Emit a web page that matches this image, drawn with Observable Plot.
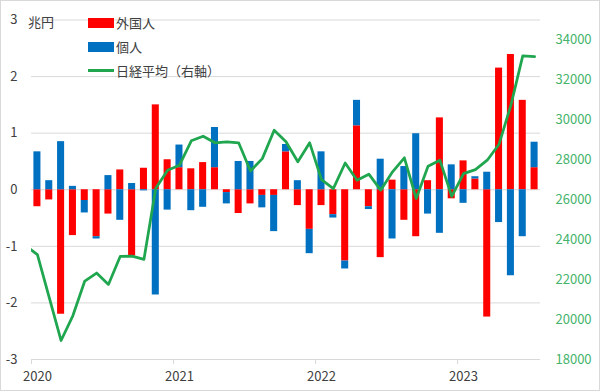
<!DOCTYPE html>
<html><head><meta charset="utf-8">
<script src="https://cdn.jsdelivr.net/npm/d3@7"></script>
<script src="https://cdn.jsdelivr.net/npm/@observablehq/plot@0.6"></script>
<style>
body{margin:0;background:#fff;font-family:"Noto Sans CJK JP",sans-serif;}
#wrap{position:relative;width:600px;height:391px;overflow:hidden;background:#fff;}
.lbl{position:absolute;font-size:13px;color:#404040;line-height:13px;white-space:nowrap;}
.sw{position:absolute;}
#frame{position:absolute;left:0;top:0;width:600px;height:391px;box-sizing:border-box;border:1px solid #d9d9d9;pointer-events:none;}
</style></head><body>
<div id="wrap"></div>
<script>
// Categories: monthly, Jan 2020 - Jul 2023
const months = [
 "2020-01","2020-02","2020-03","2020-04","2020-05","2020-06","2020-07","2020-08","2020-09","2020-10","2020-11","2020-12",
 "2021-01","2021-02","2021-03","2021-04","2021-05","2021-06","2021-07","2021-08","2021-09","2021-10","2021-11","2021-12",
 "2022-01","2022-02","2022-03","2022-04","2022-05","2022-06","2022-07","2022-08","2022-09","2022-10","2022-11","2022-12",
 "2023-01","2023-02","2023-03","2023-04","2023-05","2023-06","2023-07"
];
// 外国人 (trillion yen)
const foreign = [
 -0.30,-0.18,-2.20,-0.81,-0.19,-0.83,-0.43,0.35,-1.17,0.38,1.50,0.53,
 0.39,0.37,0.48,0.39,-0.05,-0.42,-0.25,-0.10,-0.10,0.67,-0.28,-0.70,
 -0.28,-0.44,-1.26,1.13,-0.30,-1.20,0.17,-0.54,-0.83,0.16,1.27,-0.16,
 0.51,0.19,-2.25,2.15,2.39,1.58,0.39
];
// 個人 (trillion yen)
const individual = [
 0.67,0.16,0.85,0.06,-0.22,-0.04,0.25,-0.54,0.11,-0.02,-1.86,-0.36,
 0.40,-0.37,-0.31,0.71,-0.20,0.50,0.50,-0.22,-0.64,0.13,0.16,-0.43,
 0.67,-0.06,-0.14,0.45,-0.05,0.54,-0.87,0.41,0.99,-0.43,-0.77,0.44,
 -0.24,0.04,0.31,-0.58,-1.52,-0.83,0.45
];
// 日経平均 (right axis), Dec 2019 - Jul 2023
const nikkeiMonths = ["2019-12", ...months];
const nikkei = [
 23700,
 23250,21100,18950,20200,21930,22330,21760,23170,23180,23015,26575,27480,
 27730,28950,29180,28850,28900,28850,27440,28060,29480,28900,27900,28850,
 27010,26560,27840,26980,27280,26480,27400,28100,26060,27680,27980,26170,
 27310,27510,27980,28780,30740,33200,33160
];
const yearLabels = ["2020","2021","2022","2023"];
const leftTicks = [-3,-2,-1,0,1,2,3];
const rightTicks = [18000,20000,22000,24000,26000,28000,30000,32000,34000];
const leftDomain = [-3, 3];
const rightDomain = [18000, 35000];

const toLeft = v => leftDomain[0] + (v - rightDomain[0]) / (rightDomain[1] - rightDomain[0]) * (leftDomain[1] - leftDomain[0]);
const fromLeft = y => rightDomain[0] + (y - leftDomain[0]) / (leftDomain[1] - leftDomain[0]) * (rightDomain[1] - rightDomain[0]);

const bars = [
  ...months.map((m, i) => ({i, series: "外国人", value: foreign[i]})),
  ...months.map((m, i) => ({i, series: "個人", value: individual[i]}))
];
const lineData = nikkeiMonths.map((m, k) => ({pos: k - 1 + 0.5, y: toLeft(nikkei[k])}));
const yearPos = yearLabels.map(y => months.indexOf(y + "-01"));
const yearLabelPos = yearPos.map(p => p + 0.5);

const chart = Plot.plot({
  width: 600, height: 391,
  marginLeft: 31, marginRight: 60, marginTop: 19.5, marginBottom: 32,
  x: {type: "linear", domain: [0, months.length], axis: null},
  y: {domain: leftDomain, axis: null},
  color: {domain: ["外国人", "個人"], range: ["#ff0000", "#0070c0"]},
  style: {fontFamily: "'Noto Sans CJK JP', sans-serif", fontSize: "13px", background: "transparent", overflow: "visible"},
  marks: [
    Plot.gridY(leftTicks.filter(t => t > leftDomain[0]), {stroke: "#d9d9d9", strokeOpacity: 1}),
    Plot.rectY(bars, Plot.stackY({x1: "i", x2: d => d.i + 1, y: "value", fill: "series", insetLeft: 2.4, insetRight: 2.4})),
    Plot.ruleY([leftDomain[0]], {stroke: "#d9d9d9"}),
    Plot.axisX({ticks: yearPos, tickSize: 5, tickFormat: () => "", stroke: "#d9d9d9", label: null}),
    Plot.axisX({ticks: yearLabelPos, tickSize: 0, tickPadding: 12.5, fill: "#404040", label: null,
      tickFormat: d => yearLabels[yearLabelPos.indexOf(d)]}),
    Plot.axisY({ticks: leftTicks, anchor: "left", tickSize: 0, tickPadding: 14, fill: "#404040", label: null,
      tickFormat: d => String(d)}),
    Plot.axisY({ticks: rightTicks.map(toLeft), anchor: "right", tickSize: 0, tickPadding: 15, fill: "#45b36b", label: null,
      tickFormat: d => String(Math.round(fromLeft(d)))}),
    Plot.line(lineData, {x: "pos", y: "y", stroke: "#1fa64f", strokeWidth: 2.75, clip: true})
  ]
});

const wrap = document.getElementById("wrap");
wrap.appendChild(chart);

function addLabel(text, left, cy) {
  const d = document.createElement("div");
  d.className = "lbl";
  d.textContent = text;
  d.style.left = left + "px";
  d.style.top = (cy - 6.5) + "px";
  wrap.appendChild(d);
}
function addSwatch(left, top, w, h, color) {
  const d = document.createElement("div");
  d.className = "sw";
  Object.assign(d.style, {left: left + "px", top: top + "px", width: w + "px", height: h + "px", background: color});
  wrap.appendChild(d);
}
addLabel("兆円", 28, 21);
addSwatch(88, 18, 26, 10, "#ff0000");
addLabel("外国人", 116, 22.5);
addSwatch(88, 42, 26, 10, "#0070c0");
addLabel("個人", 116, 46.5);
addSwatch(88, 68.5, 26, 3, "#1fa64f");
addLabel("日経平均（右軸）", 116, 70.5);

const frame = document.createElement("div");
frame.id = "frame";
wrap.appendChild(frame);
</script>
</body></html>
